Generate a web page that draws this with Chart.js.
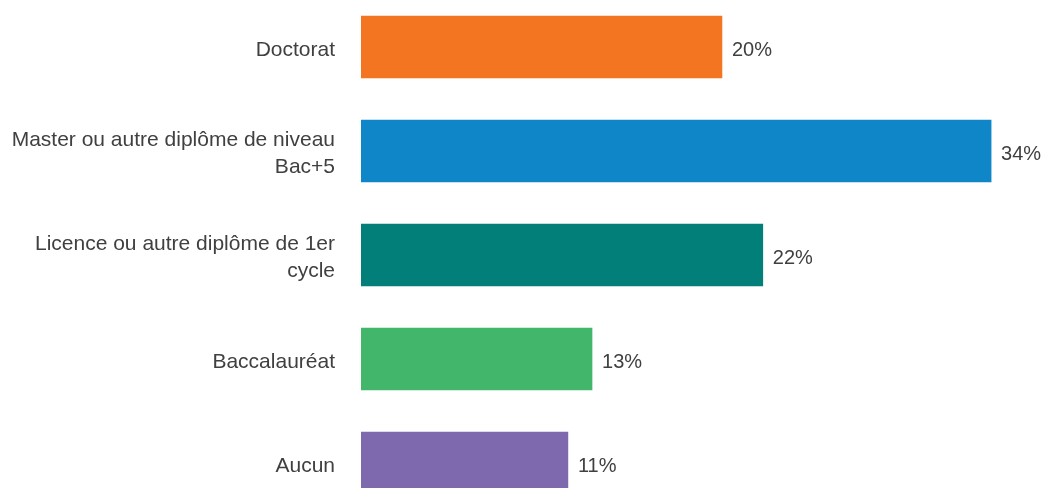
<!DOCTYPE html>
<html>
<head>
<meta charset="utf-8">
<script src="https://cdn.jsdelivr.net/npm/chart.js"></script>
<style>
  html, body { margin:0; padding:0; background:#fff; overflow:hidden; }
  #wrap { position:absolute; left:0; top:-5px; width:1045px; height:520px; }
</style>
</head>
<body>
<div id="wrap"><canvas id="chart"></canvas></div>
<script>
// Niveau de diplôme
const categories = [
  'Doctorat',
  ['Master ou autre diplôme de niveau', 'Bac+5'],
  ['Licence ou autre diplôme de 1er', 'cycle'],
  'Baccalauréat',
  'Aucun'
];
const values = [19.5, 34.0, 21.7, 12.5, 11.2];
const valueLabels = ['20%', '34%', '22%', '13%', '11%'];
const colors = ['#F37521', '#0E86C8', '#017F78', '#42B76B', '#7E69AF'];

const fontFamily = '"Liberation Sans", Arial, sans-serif';

// étiquettes de valeur à droite des barres
const valueLabelPlugin = {
  id: 'valueLabels',
  afterDatasetsDraw(chart) {
    const ctx = chart.ctx;
    const meta = chart.getDatasetMeta(0);
    ctx.save();
    ctx.font = '20px ' + fontFamily;
    ctx.fillStyle = '#404040';
    ctx.textAlign = 'left';
    ctx.textBaseline = 'middle';
    meta.data.forEach((bar, i) => {
      ctx.fillText(valueLabels[i], bar.x + 9, bar.y + 3);
    });
    ctx.restore();
  }
};

new Chart(document.getElementById('chart').getContext('2d'), {
  type: 'bar',
  data: {
    labels: categories,
    datasets: [{
      data: values,
      backgroundColor: colors,
      borderColor: 'rgba(255,255,255,0.25)',
      borderWidth: 1,
      barThickness: 64
    }]
  },
  options: {
    indexAxis: 'y',
    responsive: true,
    maintainAspectRatio: false,
    animation: false,
    layout: { padding: 0 },
    plugins: {
      legend: { display: false },
      tooltip: { enabled: false }
    },
    scales: {
      x: { display: false, min: 0, max: 36.85 },
      y: {
        grid: { display: false, drawTicks: false },
        border: { display: false },
        ticks: {
          padding: 26,
          labelOffset: 3,
          color: '#404040',
          font: { family: fontFamily, size: 21, lineHeight: 1.3 }
        },
        afterFit(scale) {
          scale.width = 361;
          scale.paddingTop = 0;
          scale.paddingBottom = 0;
        }
      }
    }
  },
  plugins: [valueLabelPlugin]
});
</script>
</body>
</html>
